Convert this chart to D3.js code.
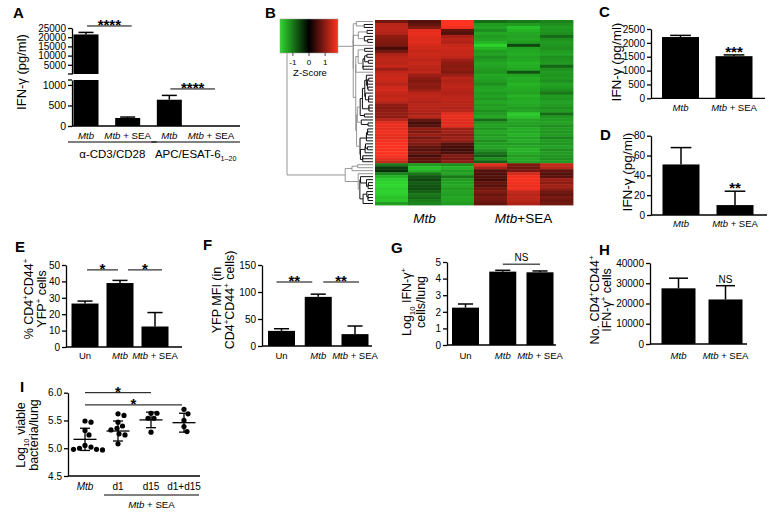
<!DOCTYPE html>
<html><head><meta charset="utf-8">
<script src="https://cdn.jsdelivr.net/npm/d3@7"></script>
<style>body{margin:0;background:#fff}svg{display:block}</style>
</head><body><svg id="c" width="773" height="519"></svg>
<script>
// ---------------- DATA ----------------
// Panel A
const catsA = ["cd3_mtb", "cd3_sea", "esat_mtb", "esat_sea"];
const labelsA = ["Mtb", "Mtb + SEA", "Mtb", "Mtb + SEA"];
const valA = [21500, 195, 640, 0];
const errA = [22600, 218, 745, 0];
const ticksAUpper = [5000, 10000, 15000, 20000, 25000];
const ticksALower = [0, 500, 1000];
const groupsA = ["α-CD3/CD28", "APC/ESAT-6"];
// Panels C, D, H
const cats2 = ["Mtb", "Mtb + SEA"];
const valC = [2210, 1520], errC = [2270, 1565];
const ticksC = [0, 500, 1000, 1500, 2000, 2500];
const valD = [51, 10], errD = [68, 24];
const ticksD = [0, 20, 40, 60, 80];
const valH = [27500, 22000], errH = [32500, 28800];
const ticksH = [0, 10000, 20000, 30000, 40000];
// Panels E, F, G
const cats3 = ["Un", "Mtb", "Mtb + SEA"];
const valE = [26.5, 39, 12.5], errE = [28, 40.6, 21];
const ticksE = [0, 10, 20, 30, 40, 50];
const valF = [28, 91, 22], errF = [32, 96, 37];
const ticksF = [0, 50, 100, 150];
const valG = [2.25, 4.42, 4.38], errG = [2.47, 4.5, 4.46];
const ticksG = [0, 1, 2, 3, 4, 5];
// Panel I
const catsI = ["Mtb", "d1", "d15", "d1+d15"];
const ptsI = [
  [5.47, 5.49, 5.32, 5.24, 5.05, 5.02, 5.00, 4.98, 4.98, 4.97],
  [5.62, 5.59, 5.47, 5.40, 5.36, 5.33, 5.26, 5.24, 5.08],
  [5.63, 5.63, 5.54, 5.54, 5.29],
  [5.70, 5.62, 5.50, 5.39, 5.30]
];
const meanI = [5.16, 5.31, 5.51, 5.46];
const sdI = [0.20, 0.18, 0.14, 0.17];
const ticksI = [4.5, 5.0, 5.5, 6.0];
// Panel B heatmap (z-scores, rows top to bottom)
const mtb1 = [0.8,1.3,1.35,1.3,1.25,1.0,0.95,0.9,0.85,0.5, 0.8,1.2,1.3,1.35,1.3,1.4,1.1,1.35,1.4,1.45, 1.4,1.3,1.45,1.5,1.4,1.35,1.4,1.3,1.0,0.95, 1.0,1.05,1.0,1.3,1.6,1.65,1.6,1.7,1.65,1.6, 1.7,1.75,1.8,1.75,1.8,1.75,1.6,1.4,
  -1.0,-0.5,-0.4,-1.1,-1.5,-1.7,-1.75,-1.8,-1.7,-1.75,-1.7,-1.6,-1.65,-1.3];
const mtb2 = [0.6,0.7,0.9,1.6,1.65,1.6,1.55,1.6,1.5,1.45, 1.4,1.45,1.4,1.35,1.4,1.35,1.3,1.35,1.1,1.0, 0.9,1.0,0.95,1.1,1.3,1.35,1.3,1.25,1.3,1.3, 1.25,1.2,1.3,0.7,0.5,0.6,1.0,0.9,1.1,0.85, 1.0,0.9,0.7,0.6,0.75,0.5,0.7,0.65,
  -1.3,-1.6,-1.5,-1.0,-0.7,-0.6,-0.75,-0.7,-0.65,-0.8,-1.0,-0.9,-1.05,-1.1];
const mtb3 = [1.8,1.85,1.7,0.7,0.6,1.2,1.3,1.25,1.4,1.45, 1.4,1.4,1.35,1.1,1.0,0.95,1.0,0.9,1.1,1.3, 1.25,1.3,1.35,1.3,1.25,1.3,1.35,1.3,1.3,1.25, 1.3,1.6,1.65,1.6,1.55,1.6,1.1,1.15,1.0,1.1, 1.05,0.6,0.5,0.45,0.55,0.9,0.85,1.0,
  -1.2,-1.5,-1.3,-1.35,-1.0,-1.3,-1.35,-1.4,-1.3,-1.35,-1.3,-1.4,-1.35,-1.3];
const sea1 = [-0.9,-1.3,-1.35,-1.2,-1.4,-1.3,-1.35,-1.5,-1.75,-1.5, -1.3,-1.35,-1.2,-1.3,-1.4,-1.35,-1.3,-1.25,-1.4,-1.35, -1.3,-1.2,-1.35,-1.4,-1.3,-1.35,-1.25,-1.4,-1.3,-1.35, -1.2,-1.3,-1.4,-0.9,-1.3,-1.35,-1.25,-1.4,-1.3,-1.35, -1.2,-1.3,-1.35,-1.25,-1.0,-0.8,-1.2,-0.8,
  1.6,1.2,0.6,0.55,0.6,0.5,0.7,0.65,0.8,0.9,0.75,0.85,0.8,0.7];
const sea2 = [-1.0,-1.3,-1.6,-1.5,-1.4,-1.35,-1.4,-1.3,-0.6,-1.35, -1.4,-1.45,-1.35,-1.4,-1.5,-1.45,-1.4,-0.7,-1.35,-1.45, -1.4,-1.5,-1.45,-1.4,-1.35,-1.5,-1.4,-1.45,-1.4,-1.3, -1.35,-1.7,-1.6,-1.4,-1.35,-1.3,-1.45,-1.4,-1.5,-1.35, -1.45,-1.3,-1.4,-1.5,-1.45,-1.3,-1.4,-1.35,
  0.9,0.8,0.85,1.5,1.7,1.75,1.7,1.65,1.7,1.4,1.3,1.35,1.3,1.2];
const sea3 = [-1.1,-1.2,-1.3,-1.25,-1.2,-0.9,-1.2,-1.3,-1.25,-1.2, -1.3,-1.35,-1.2,-1.25,-1.3,-0.85,-1.2,-1.3,-1.25,-1.3, -1.2,-1.35,-1.3,-1.2,-1.0,-1.3,-1.25,-1.35,-1.3,-1.2, -1.3,-0.9,-1.25,-1.3,-1.35,-1.2,-1.3,-1.25,-1.3,-1.1, -1.3,-1.25,-1.35,-1.2,-1.3,-1.25,-1.2,-1.3,
  1.4,1.3,0.7,0.6,0.65,1.1,1.0,1.15,1.05,0.8,0.7,0.85,0.75,0.8];
const heatSamples = [mtb1, mtb2, mtb3, sea1, sea2, sea3];
const heatGroups = ["Mtb", "Mtb+SEA"];
const keyTicks = [-1, 0, 1];

// ---------------- HELPERS ----------------
const FONT = '"Liberation Sans", Arial, Helvetica, sans-serif';
const svg = d3.select("#c").attr("font-family", FONT);

function rich(sel, segs, fs) {
  let shift = 0;
  segs.forEach(s => {
    const t = sel.append("tspan").text(s.t);
    let target = 0;
    if (s.sup) { target = -fs * 0.4; t.attr("font-size", fs * 0.62); }
    if (s.sub) { target = fs * 0.28; t.attr("font-size", fs * 0.62); }
    if (s.it) t.attr("font-style", "italic");
    if (target !== shift) { t.attr("dy", target - shift); shift = target; }
  });
  return sel;
}
function catSegs(label) {
  if (label.startsWith("Mtb")) return [{t: "Mtb", it: true}, {t: label.slice(3)}];
  return [{t: label}];
}
function panelLetter(x, y, t) {
  svg.append("text").attr("x", x).attr("y", y).attr("font-size", 15).attr("font-weight", "bold").text(t);
}
function yAxis(x, scale, ticks, fmt, fs) {
  const g = svg.append("g").attr("transform", `translate(${x},0)`)
    .call(d3.axisLeft(scale).tickValues(ticks).tickSize(4).tickSizeOuter(0).tickPadding(2).tickFormat(fmt || d3.format("d")));
  g.attr("font-family", FONT);
  g.select(".domain").attr("stroke", "#000").attr("stroke-width", 1.3);
  g.selectAll(".tick line").attr("stroke", "#000").attr("stroke-width", 1.3);
  g.selectAll(".tick text").attr("font-size", fs || 10).attr("fill", "#000");
  return g;
}
function hLine(x1, x2, y, w) {
  svg.append("line").attr("x1", x1).attr("x2", x2).attr("y1", y).attr("y2", y).attr("stroke", "#000").attr("stroke-width", w || 1.3);
}
function yTitle(lines, xs, yc, fs) {
  lines.forEach((segs, i) => {
    const t = svg.append("text").attr("transform", `translate(${xs[i]},${yc}) rotate(-90)`)
      .attr("text-anchor", "middle").attr("font-size", fs);
    rich(t, segs, fs);
  });
}
function catLabels(cats, labels, x, y, fs) {
  cats.forEach((c, i) => {
    const t = svg.append("text").attr("x", x(c)).attr("y", y).attr("text-anchor", "middle").attr("font-size", fs || 9.5);
    rich(t, catSegs(labels[i]), fs || 9.5);
  });
}
function bars(cats, vals, errs, x, y, bw) {
  svg.append("g").selectAll("rect").data(cats).join("rect")
    .attr("x", c => x(c) - bw / 2).attr("width", bw)
    .attr("y", (c, i) => y(vals[i])).attr("height", (c, i) => y(0) - y(vals[i])).attr("fill", "#000");
  errBars(cats, vals, errs, x, y, bw);
}
function errBars(cats, vals, errs, x, y, bw) {
  const g = svg.append("g").attr("stroke", "#000").attr("stroke-width", 1.5);
  cats.forEach((c, i) => {
    if (errs[i] <= vals[i]) return;
    g.append("line").attr("x1", x(c)).attr("x2", x(c)).attr("y1", y(vals[i])).attr("y2", y(errs[i]));
    g.append("line").attr("x1", x(c) - bw * 0.28).attr("x2", x(c) + bw * 0.28).attr("y1", y(errs[i])).attr("y2", y(errs[i]));
  });
}
function sig(x1, x2, yl, label, starStyle) {
  hLine(x1, x2, yl, 1);
  const t = svg.append("text").attr("x", (x1 + x2) / 2).attr("text-anchor", "middle");
  if (starStyle) t.attr("y", yl + 4).attr("font-size", 15).attr("font-weight", "bold").text(label);
  else t.attr("y", yl - 3).attr("font-size", 10).text(label);
}
function stars(xc, yb, label) {
  svg.append("text").attr("x", xc).attr("y", yb).attr("text-anchor", "middle").attr("font-size", 15).attr("font-weight", "bold").text(label);
}

// ---------------- PANEL A ----------------
panelLetter(13, 18, "A");
{
  const x = d3.scalePoint().domain(catsA).range([86, 211]);
  const yU = d3.scaleLinear().domain([0, 25000]).range([74, 28]);
  const yL = d3.scaleLinear().domain([0, 1120]).range([126, 80]);
  const lowMax = yL.domain()[1];
  const bw = 25;
  const g = svg.append("g");
  catsA.forEach((c, i) => {
    const v = valA[i];
    g.append("rect").attr("x", x(c) - bw / 2).attr("width", bw)
      .attr("y", yL(Math.min(v, lowMax))).attr("height", yL(0) - yL(Math.min(v, lowMax))).attr("fill", "#000");
    if (v > lowMax) g.append("rect").attr("x", x(c) - bw / 2).attr("width", bw)
      .attr("y", yU(v)).attr("height", yU(0) - yU(v)).attr("fill", "#000");
  });
  const eg = svg.append("g").attr("stroke", "#000").attr("stroke-width", 1.5);
  catsA.forEach((c, i) => {
    if (errA[i] <= valA[i]) return;
    const sc = valA[i] > lowMax ? yU : yL;
    eg.append("line").attr("x1", x(c)).attr("x2", x(c)).attr("y1", sc(valA[i])).attr("y2", sc(errA[i]));
    eg.append("line").attr("x1", x(c) - bw * 0.3).attr("x2", x(c) + bw * 0.3).attr("y1", sc(errA[i])).attr("y2", sc(errA[i]));
  });
  yAxis(72, yU, ticksAUpper, d3.format("d"), 10);
  yAxis(72, yL, ticksALower, d3.format("d"), 10.5);
  hLine(68, 72, yU(0));
  hLine(68, 72, yL(lowMax));
  hLine(72, 240, yL(0));
  catLabels(catsA, labelsA, x, 139, 9.7);
  const gl = [[catsA[0], catsA[1]], [catsA[2], catsA[3]]];
  gl.forEach((p, i) => {
    const x1 = x(p[0]) - 18, x2 = x(p[1]) + 29;
    hLine(x1, x2, 142, 1);
    const t = svg.append("text").attr("x", (x1 + x2) / 2).attr("y", 157.5).attr("text-anchor", "middle").attr("font-size", 11.5);
    if (i === 0) t.text(groupsA[0]);
    else rich(t, [{t: groupsA[1]}, {t: "1–20", sub: true}], 11.5);
  });
  sig(x(catsA[0]) + 1, x(catsA[1]) + 4, yU(26100), "****", true);
  sig(x(catsA[2]) + 1, x(catsA[3]) + 4, yL(902), "****", true);
  yTitle([[{t: "IFN-γ (pg/ml)"}]], [26], 72, 13);
}

// ---------------- PANEL B ----------------
panelLetter(265, 18, "B");
{
  const nRows = mtb1.length;
  const hx = d3.scaleBand().domain(d3.range(heatSamples.length)).range([375, 573]);
  const hy = d3.scaleBand().domain(d3.range(nRows)).range([20, 205]);
  const color = d3.scaleLinear().domain([-1.8, 0, 1.8]).range(["#2ed82e", "#000000", "#ff3322"]).clamp(true);
  const g = svg.append("g");
  heatSamples.forEach((s, j) => {
    g.selectAll(null).data(s).join("rect")
      .attr("x", hx(j)).attr("width", hx.bandwidth() + 0.4)
      .attr("y", (d, i) => hy(i)).attr("height", hy.bandwidth() + 0.4)
      .attr("fill", d => color(d));
  });
  // dendrogram (adjacency-constrained average linkage on rows)
  const vecs = d3.range(nRows).map(i => heatSamples.map(s => s[i]));
  const dist = (a, b) => Math.sqrt(d3.sum(a, (v, k) => (v - b[k]) ** 2));
  let nodes = d3.range(nRows).map(i => ({m: [i], h: 0, y: hy(i) + hy.bandwidth() / 2}));
  const internal = [];
  while (nodes.length > 1) {
    let best = 0, bd = Infinity;
    for (let k = 0; k < nodes.length - 1; k++) {
      const A = nodes[k], B = nodes[k + 1];
      let s = 0;
      for (const i of A.m) for (const jj of B.m) s += dist(vecs[i], vecs[jj]);
      const d = s / (A.m.length * B.m.length);
      if (d < bd) { bd = d; best = k; }
    }
    const A = nodes[best], B = nodes[best + 1];
    const n = {m: A.m.concat(B.m), h: Math.max(bd, A.h, B.h), y: (A.y + B.y) / 2, a: A, b: B};
    internal.push(n);
    nodes.splice(best, 2, n);
  }
  const root = nodes[0];
  const dx = d3.scalePow().exponent(0.85).domain([0, root.h]).range([373, 287]);
  const dg = svg.append("g").attr("fill", "none");
  internal.forEach(n => {
    const low = n.h < root.h * 0.12;
    dg.append("path").attr("d", `M${dx(n.a.h)},${n.a.y}H${dx(n.h)}V${n.b.y}H${dx(n.b.h)}`)
      .attr("stroke", low ? "#111" : "#8a8a8a").attr("stroke-width", low ? 1 : 0.9);
  });
  // colour key
  const kx = d3.scaleLinear().domain([-1.8, 1.8]).range([280, 338]);
  const defs = svg.append("defs");
  const grad = defs.append("linearGradient").attr("id", "kg");
  d3.range(0, 1.0001, 0.1).forEach(f => grad.append("stop").attr("offset", f).attr("stop-color", color(-1.8 + 3.6 * f)));
  svg.append("rect").attr("x", kx(-1.8)).attr("y", 19).attr("width", kx(1.8) - kx(-1.8)).attr("height", 34)
    .attr("fill", "url(#kg)").attr("stroke", "#999").attr("stroke-width", 0.5);
  keyTicks.forEach(t => {
    svg.append("line").attr("x1", kx(t)).attr("x2", kx(t)).attr("y1", 53).attr("y2", 56).attr("stroke", "#000").attr("stroke-width", 0.7);
    svg.append("text").attr("x", kx(t)).attr("y", 65).attr("text-anchor", "middle").attr("font-size", 8).text(t);
  });
  svg.append("text").attr("x", kx(0) + 1).attr("y", 76).attr("text-anchor", "middle").attr("font-size", 9.5).text("Z-Score");
  heatGroups.forEach((gname, i) => {
    const xc = (hx(i * 3) + hx(i * 3 + 2) + hx.bandwidth()) / 2;
    const t = svg.append("text").attr("x", xc).attr("y", 223).attr("text-anchor", "middle").attr("font-size", 13.5);
    rich(t, catSegs(gname), 13.5);
  });
}

// ---------------- PANEL C ----------------
panelLetter(599, 17, "C");
{
  const x = d3.scalePoint().domain(cats2).range([680.5, 734]);
  const y = d3.scaleLinear().domain([0, 2500]).range([98.3, 29]);
  bars(cats2, valC, errC, x, y, 37);
  yAxis(651, y, ticksC);
  hLine(651, 765, y(0));
  catLabels(cats2, cats2, x, 111);
  stars(x(cats2[1]), y(errC[1]) + 2, "***");
  yTitle([[{t: "IFN-γ (pg/ml)"}]], [621], 62, 13.5);
}

// ---------------- PANEL D ----------------
panelLetter(600, 140, "D");
{
  const x = d3.scalePoint().domain(cats2).range([681, 735]);
  const y = d3.scaleLinear().domain([0, 80]).range([215, 135.7]);
  bars(cats2, valD, errD, x, y, 37);
  yAxis(651, y, ticksD);
  hLine(651, 767, y(0));
  catLabels(cats2, cats2, x, 227);
  stars(x(cats2[1]), y(errD[1]) + 1.5, "**");
  yTitle([[{t: "IFN-γ (pg/ml)"}]], [632], 172, 13.5);
}

// ---------------- PANEL E ----------------
panelLetter(15, 252, "E");
{
  const x = d3.scalePoint().domain(cats3).range([85, 155]);
  const y = d3.scaleLinear().domain([0, 50]).range([347, 265]);
  bars(cats3, valE, errE, x, y, 27);
  yAxis(66, y, ticksE);
  hLine(66, 182, y(0));
  catLabels(cats3, cats3, x, 359);
  sig(x(cats3[0]) + 2, x(cats3[1]) - 2, y(47), "*", true);
  sig(x(cats3[1]) + 8, x(cats3[2]) + 7, y(47), "*", true);
  yTitle([
    [{t: "% CD4"}, {t: "+", sup: true}, {t: "CD44"}, {t: "+", sup: true}],
    [{t: "YFP"}, {t: "+", sup: true}, {t: " cells"}]
  ], [33, 45.5], 299, 12.5);
}

// ---------------- PANEL F ----------------
panelLetter(203, 250, "F");
{
  const x = d3.scalePoint().domain(cats3).range([281.5, 355]);
  const y = d3.scaleLinear().domain([0, 150]).range([346, 265]);
  bars(cats3, valF, errF, x, y, 27);
  yAxis(262, y, ticksF);
  hLine(262, 372, y(0));
  catLabels(cats3, cats3, x, 359);
  sig(x(cats3[0]) - 5, x(cats3[1]) - 6, y(118.5), "**", true);
  sig(x(cats3[1]) + 5, x(cats3[2]) + 4, y(118.5), "**", true);
  yTitle([
    [{t: "YFP MFI (in"}],
    [{t: "CD4"}, {t: "+", sup: true}, {t: "CD44"}, {t: "+", sup: true}, {t: " cells)"}]
  ], [220.5, 233.5], 300, 12.5);
}

// ---------------- PANEL G ----------------
panelLetter(391, 253, "G");
{
  const x = d3.scalePoint().domain(cats3).range([465.5, 540]);
  const y = d3.scaleLinear().domain([0, 5]).range([345, 262]);
  bars(cats3, valG, errG, x, y, 27);
  yAxis(447, y, ticksG);
  hLine(447, 556, y(0));
  catLabels(cats3, cats3, x, 359);
  sig(x(cats3[1]), x(cats3[2]), y(4.87), "NS", false);
  yTitle([
    [{t: "Log"}, {t: "10", sub: true}, {t: " IFN-γ"}, {t: "+", sup: true}],
    [{t: "cells/lung"}]
  ], [411, 425], 302, 12.5);
}

// ---------------- PANEL H ----------------
panelLetter(599, 255, "H");
{
  const x = d3.scalePoint().domain(cats2).range([678.5, 725.5]);
  const y = d3.scaleLinear().domain([0, 40000]).range([344, 263]);
  bars(cats2, valH, errH, x, y, 34);
  yAxis(650, y, ticksH);
  hLine(650, 747, y(0));
  catLabels(cats2, cats2, x, 359);
  svg.append("text").attr("x", x(cats2[1])).attr("y", y(errH[1]) - 3).attr("text-anchor", "middle").attr("font-size", 10).text("NS");
  yTitle([
    [{t: "No. CD4"}, {t: "+", sup: true}, {t: "CD44"}, {t: "+", sup: true}],
    [{t: "IFN-γ"}, {t: "+", sup: true}, {t: " cells"}]
  ], [598.5, 611], 300, 12.5);
}

// ---------------- PANEL I ----------------
panelLetter(20, 392, "I");
{
  const x = d3.scalePoint().domain(catsI).range([85, 184]);
  const y = d3.scaleLinear().domain([4.5, 6.0]).range([476, 392.7]);
  const r = 2.6;
  function swarm(vals) {
    const placed = [];
    const order = vals.map((v, i) => i).sort((a, b) => vals[b] - vals[a]);
    const out = new Array(vals.length);
    for (const i of order) {
      const yy = y(vals[i]);
      let off = 0;
      for (let k = 0; k < 400; k++) {
        const cand = (k % 2 ? 1 : -1) * Math.ceil(k / 2) * 0.5;
        if (placed.every(p => Math.hypot(p.x - cand, p.y - yy) >= 2 * r + 0.6)) { off = cand; break; }
      }
      placed.push({x: off, y: yy});
      out[i] = {x: off, y: yy};
    }
    return out;
  }
  const g = svg.append("g");
  catsI.forEach((c, i) => {
    const pos = swarm(ptsI[i]);
    g.selectAll(null).data(pos).join("circle")
      .attr("cx", p => x(c) + p.x).attr("cy", p => p.y).attr("r", r).attr("fill", "#000");
    const lg = svg.append("g").attr("stroke", "#000").attr("stroke-width", 1.3);
    lg.append("line").attr("x1", x(c) - 11.5).attr("x2", x(c) + 11.5).attr("y1", y(meanI[i])).attr("y2", y(meanI[i]));
    lg.append("line").attr("x1", x(c)).attr("x2", x(c)).attr("y1", y(meanI[i] - sdI[i])).attr("y2", y(meanI[i] + sdI[i]));
    [meanI[i] - sdI[i], meanI[i] + sdI[i]].forEach(v =>
      lg.append("line").attr("x1", x(c) - 5).attr("x2", x(c) + 5).attr("y1", y(v)).attr("y2", y(v)));
  });
  yAxis(68, y, ticksI, d3.format(".1f"));
  hLine(68, 200, y(4.5));
  catLabels(catsI, catsI, x, 490, 10);
  hLine(x(catsI[1]) - 14, x(catsI[3]) + 15, 495, 1);
  const t = svg.append("text").attr("x", (x(catsI[1]) + x(catsI[3])) / 2 + 0.5).attr("y", 508).attr("text-anchor", "middle").attr("font-size", 9.7);
  rich(t, catSegs("Mtb + SEA"), 9.7);
  sig(x(catsI[0]), x(catsI[2]), y(6.0), "*", true);
  sig(x(catsI[0]), x(catsI[3]) - 2, y(5.78), "*", true);
  yTitle([
    [{t: "Log"}, {t: "10", sub: true}, {t: " viable"}],
    [{t: "bacteria/lung"}]
  ], [25, 38], 435, 12.5);
}
</script>
</body></html>
